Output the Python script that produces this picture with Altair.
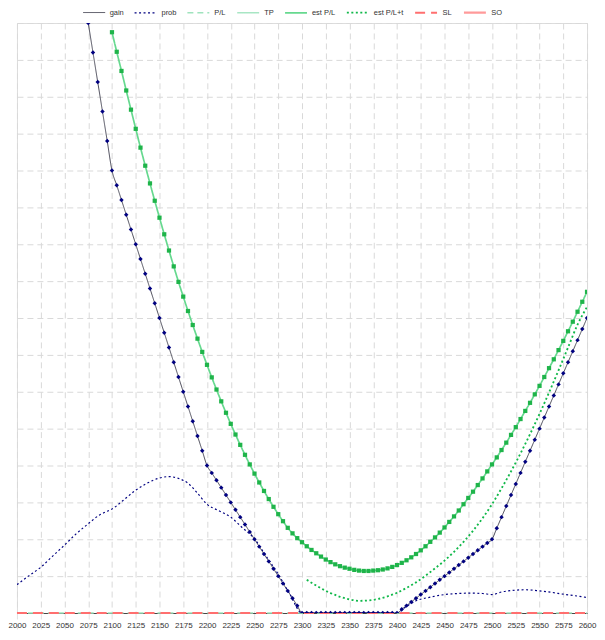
import altair as alt
import pandas as pd

SERIES = ["gain", "prob", "P/L", "TP", "est P/L", "est P/L+t", "SL", "SO"]
COLORS = ["#4a4a58", "#000080", "#9fe3bd", "#a8e6c4", "#66d98f", "#11b84a", "#ff6f6f", "#ff9a9a"]
DASHES = [[1, 0], [2, 2.5], [6, 4], [1, 0], [1, 0], [2, 2.5], [10, 6], [1, 0]]
WIDTHS = [1, 2.2, 2, 2.5, 1.5, 2.2, 2.5, 2.5]

X_TICKS = list(range(2000, 2601, 25))
Y_GRID = list(range(0, 17))

gain_x = list(range(2065, 2601, 5))
gain_y = [17.6, 16.8, 16.0, 15.2, 14.4, 13.6, 12.8, 12.0,
          11.6, 11.2, 10.8, 10.4, 10.0, 9.6, 9.2, 8.8, 8.4, 8.0,
          7.6, 7.2, 6.8, 6.4, 6.0, 5.6, 5.2, 4.8, 4.4, 4.0,
          3.8, 3.6, 3.4, 3.2, 3.0, 2.8, 2.6, 2.4, 2.2, 2.0,
          1.8, 1.6, 1.4, 1.2, 1.0, 0.8, 0.6, 0.4, 0.2, 0.0,
          0, 0, 0, 0, 0, 0, 0, 0, 0, 0,
          0, 0, 0, 0, 0, 0, 0, 0, 0, 0,
          0.1, 0.2, 0.3, 0.4, 0.5, 0.6, 0.7, 0.8, 0.9, 1.0,
          1.1, 1.2, 1.3, 1.4, 1.5, 1.6, 1.7, 1.8, 1.9, 2.0,
          2.3, 2.6, 2.9, 3.2, 3.5, 3.8, 4.1, 4.4, 4.7, 5.0,
          5.3, 5.6, 5.9, 6.2, 6.5, 6.8, 7.1, 7.4, 7.7, 8.0]

est_x = list(range(2100, 2601, 5))
est_y = [15.75, 15.22, 14.70, 14.17, 13.65, 13.13, 12.62, 12.13, 11.65, 11.18,
         10.72, 10.27, 9.83, 9.40, 8.98, 8.58, 8.19, 7.81, 7.44, 7.08,
         6.73, 6.39, 6.06, 5.74, 5.43, 5.13, 4.84, 4.56, 4.29, 4.03,
         3.78, 3.54, 3.31, 3.09, 2.88, 2.68, 2.49, 2.31, 2.16, 2.03,
         1.92, 1.81, 1.71, 1.62, 1.53, 1.45, 1.38, 1.32, 1.27, 1.23,
         1.20, 1.17, 1.15, 1.14, 1.14, 1.15, 1.16, 1.18, 1.21, 1.25,
         1.30, 1.36, 1.43, 1.51, 1.60, 1.70, 1.81, 1.93, 2.05, 2.18,
         2.32, 2.47, 2.62, 2.78, 2.95, 3.12, 3.29, 3.47, 3.65, 3.84,
         4.03, 4.22, 4.42, 4.62, 4.83, 5.04, 5.26, 5.48, 5.70, 5.93,
         6.16, 6.40, 6.64, 6.88, 7.13, 7.38, 7.64, 7.90, 8.17, 8.44,
         8.71]

estt_x = [2305, 2310, 2320, 2330, 2340, 2350, 2360, 2370, 2380, 2390, 2400,
          2410, 2420, 2430, 2440, 2450, 2460, 2470, 2480, 2490, 2500,
          2510, 2520, 2530, 2540, 2550, 2560, 2570, 2580, 2590, 2600]
estt_y = [0.90, 0.82, 0.67, 0.54, 0.44, 0.37, 0.33, 0.34, 0.38, 0.45, 0.55,
          0.68, 0.83, 1.01, 1.21, 1.42, 1.66, 1.93, 2.23, 2.57, 2.95,
          3.38, 3.84, 4.33, 4.85, 5.40, 5.98, 6.58, 7.20, 7.82, 8.30]

prob_x = [2000, 2012, 2025, 2037, 2050, 2062, 2075, 2087, 2095, 2100, 2112, 2125,
          2137, 2150, 2160, 2170, 2180, 2190, 2200, 2212, 2225, 2237, 2250,
          2262, 2275, 2287, 2300, 2400, 2410, 2420, 2435, 2450, 2465, 2476,
          2490, 2500, 2510, 2525, 2535, 2550, 2563, 2575, 2587, 2600]
prob_y = [0.77, 1.00, 1.24, 1.53, 1.84, 2.14, 2.42, 2.66, 2.76, 2.82, 3.06, 3.33,
          3.52, 3.66, 3.70, 3.65, 3.52, 3.25, 2.95, 2.78, 2.60, 2.32, 2.01,
          1.55, 1.05, 0.52, 0.0, 0.0, 0.18, 0.33, 0.43, 0.50, 0.53, 0.54,
          0.53, 0.50, 0.57, 0.62, 0.63, 0.60, 0.56, 0.51, 0.47, 0.42]

flat_x = [2000, 2600]
pl_y = [0, 0]
sl_y = [0, 0]

rows = []
rows += [{"s": "gain", "x": a, "y": b} for a, b in zip(gain_x, gain_y)]
rows += [{"s": "prob", "x": a, "y": b} for a, b in zip(prob_x, prob_y)]
rows += [{"s": "est P/L", "x": a, "y": b} for a, b in zip(est_x, est_y)]
rows += [{"s": "est P/L+t", "x": a, "y": b} for a, b in zip(estt_x, estt_y)]
df = pd.DataFrame(rows)

flat_rows = []
flat_rows += [{"s": "P/L", "x": a, "y": b} for a, b in zip(flat_x, pl_y)]
flat_rows += [{"s": "SL", "x": a, "y": b} for a, b in zip(flat_x, sl_y)]
flat_df = pd.DataFrame(flat_rows)

gain_df = pd.DataFrame({"x": gain_x, "y": gain_y})
est_df = pd.DataFrame({"x": est_x, "y": est_y})

FONT = "Liberation Sans"

xs = alt.Scale(domain=[2000, 2600], nice=False, zero=False)
ys = alt.Scale(domain=[0, 16], nice=False)

x_axis = alt.Axis(values=X_TICKS, format="d", labelFontSize=8, labelFont=FONT,
                  labelColor="#333333", labelOverlap=False, labelFlush=False,
                  grid=True, gridColor="#d9d9d9", gridDash=[6, 4],
                  tickColor="#e2e2e2", tickDash=[6, 4], tickSize=26,
                  labelPadding=-17, domainColor="#444444")
y_axis = alt.Axis(values=Y_GRID, labels=False, ticks=False, domain=False,
                  grid=True, gridColor="#d9d9d9", gridDash=[6, 4])

x_enc = alt.X("x:Q", scale=xs, title=None, axis=x_axis)
y_enc = alt.Y("y:Q", scale=ys, title=None, axis=y_axis)

legend = alt.Legend(orient="none", legendX=66, legendY=-23, direction="horizontal",
                    title=None, symbolType="stroke", symbolSize=484,
                    labelFontSize=7.5, labelFont=FONT, labelColor="#333333",
                    columnPadding=7, labelOffset=4, symbolStrokeWidth=1.5)

color_enc = alt.Color("s:N", scale=alt.Scale(domain=SERIES, range=COLORS), legend=legend)
dash_enc = alt.StrokeDash("s:N", scale=alt.Scale(domain=SERIES, range=DASHES), legend=legend)
width_enc = alt.StrokeWidth("s:N", scale=alt.Scale(domain=SERIES, range=WIDTHS), legend=None)

flat_pl = alt.Chart(flat_df).transform_filter(alt.datum.s == "P/L").mark_line(
    clip=False, strokeDashOffset=9).encode(
    x=x_enc, y=y_enc, color=color_enc, strokeDash=dash_enc, strokeWidth=width_enc)
flat_sl = alt.Chart(flat_df).transform_filter(alt.datum.s == "SL").mark_line(
    clip=False).encode(
    x=x_enc, y=y_enc, color=color_enc, strokeDash=dash_enc, strokeWidth=width_enc)

lines = alt.Chart(df).mark_line(clip=True, interpolate="monotone").encode(
    x=x_enc, y=y_enc, color=color_enc, strokeDash=dash_enc, strokeWidth=width_enc,
    order=alt.Order("x:Q"),
)

gain_pts = alt.Chart(gain_df).mark_point(shape="diamond", filled=True, size=20,
                                         color="#000080", opacity=1, clip=True).encode(
    x=x_enc, y=y_enc)
est_pts = alt.Chart(est_df).mark_point(shape="square", filled=True, size=18,
                                       color="#1fb44a", opacity=1, clip=True).encode(
    x=x_enc, y=y_enc)

chart = alt.layer(flat_pl, flat_sl, lines, est_pts, gain_pts).properties(
    width=572, height=592,
    autosize=alt.AutoSizeParams(type="none"),
    padding={"left": 9, "top": 14, "right": 10, "bottom": 18},
).configure_view(stroke=None).configure(background="white")

chart.save("out.html", embed_options={"renderer": "svg", "actions": False})
